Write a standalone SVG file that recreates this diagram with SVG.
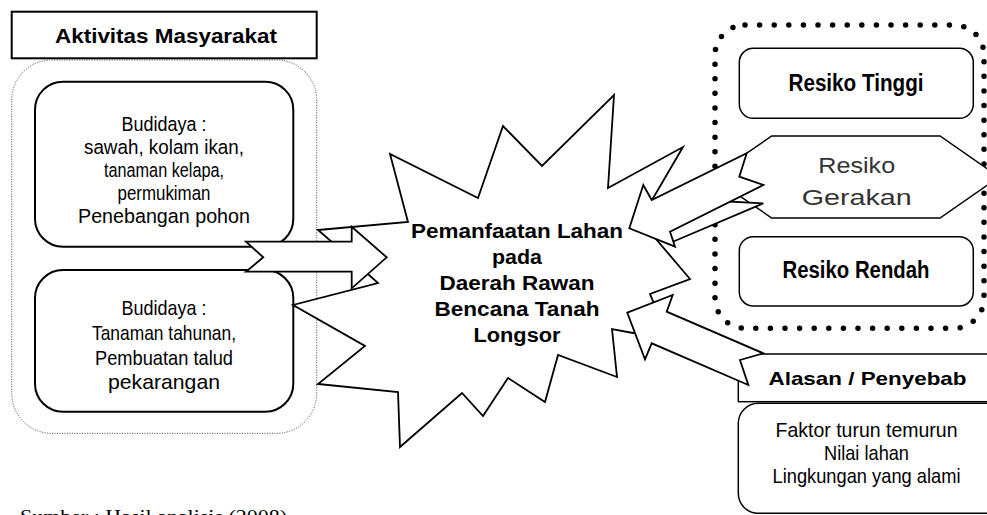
<svg xmlns="http://www.w3.org/2000/svg" width="987" height="515" viewBox="0 0 987 515">
<style>
text{font-family:"Liberation Sans",Arial,sans-serif;fill:#000;text-anchor:middle}
.b{font-weight:bold}
.n{font-size:20.5px}
.n2{font-size:21px}
.r{font-size:23px}
.m{font-size:21px}
.box{fill:#fff;stroke:#000;stroke-width:2}
.thin{fill:#fff;stroke:#000;stroke-width:1.5}
.shape{fill:#fff;stroke:#000;stroke-width:1.8;stroke-linejoin:miter}
.dotbig{fill:none;stroke:#000;stroke-width:5.5;stroke-linecap:round;stroke-dasharray:0 14.6}
.dotfine{fill:none;stroke:#444;stroke-width:1;stroke-dasharray:1 1.5}
</style>
<rect width="987" height="515" fill="#fff"/>

<g id="aktivitas">
<rect x="11.7" y="60" width="305" height="373.3" rx="40" class="dotfine"/>
<rect x="11.7" y="11.7" width="305" height="46.6" class="box"/>
<text x="166" y="43.3" class="b" font-size="21" textLength="222" lengthAdjust="spacingAndGlyphs">Aktivitas Masyarakat</text>
</g>

<g id="budidaya1">
<rect x="35" y="81.7" width="258.3" height="165" rx="28" class="box"/>
<text x="164" y="131" class="n" textLength="85" lengthAdjust="spacingAndGlyphs">Budidaya :</text>
<text x="164" y="154" class="n" textLength="160" lengthAdjust="spacingAndGlyphs">sawah, kolam ikan,</text>
<text x="164" y="177" class="n" textLength="120" lengthAdjust="spacingAndGlyphs">tanaman kelapa,</text>
<text x="164" y="200" class="n" textLength="93" lengthAdjust="spacingAndGlyphs">permukiman</text>
<text x="164" y="223" class="n" textLength="172" lengthAdjust="spacingAndGlyphs">Penebangan pohon</text>
</g>

<g id="budidaya2">
<rect x="35" y="270" width="258.3" height="141.7" rx="28" class="box"/>
<text x="164" y="315" class="n2" textLength="85" lengthAdjust="spacingAndGlyphs">Budidaya :</text>
<text x="164" y="340" class="n2" textLength="144" lengthAdjust="spacingAndGlyphs">Tanaman tahunan,</text>
<text x="164" y="364.5" class="n2" textLength="138" lengthAdjust="spacingAndGlyphs">Pembuatan talud</text>
<text x="164" y="389" class="n2" textLength="112" lengthAdjust="spacingAndGlyphs">pekarangan</text>
</g>

<g id="pemanfaatan">
<polygon class="shape" points="318,230 408,222 390,154 478,198 503,126 542,166 614,95 608,188 683,147 652,200 650,232 690,279 650,294 653,301 665,325 633,333 612,329 617,377 558,355 545,402 508,378 483,416 462,393 400,447 398,392 318,384 365,346 293,305 378,283 348,256"/>
<text x="517" y="238.3" class="b" font-size="20" textLength="212" lengthAdjust="spacingAndGlyphs">Pemanfaatan Lahan</text>
<text x="517" y="264" class="b" font-size="20" textLength="50" lengthAdjust="spacingAndGlyphs">pada</text>
<text x="517" y="290" class="b" font-size="20" textLength="155" lengthAdjust="spacingAndGlyphs">Daerah Rawan</text>
<text x="517" y="315.7" class="b" font-size="20" textLength="165" lengthAdjust="spacingAndGlyphs">Bencana Tanah</text>
<text x="517" y="341.5" class="b" font-size="20" textLength="87" lengthAdjust="spacingAndGlyphs">Longsor</text>
</g>

<g id="resiko">
<rect x="715" y="25" width="269" height="303.3" rx="30" class="dotbig"/>
</g>

<g id="resiko-tinggi">
<rect x="739.3" y="48.3" width="234" height="70" rx="14" class="thin"/>
<text x="856" y="90.7" class="b r" textLength="135" lengthAdjust="spacingAndGlyphs">Resiko Tinggi</text>
</g>

<g id="resiko-gerakan">
<polygon class="thin" points="771.7,136 940,136 999,177 940,218 771.7,218 712,177"/>
<text x="856.7" y="173.3" font-size="22" style="fill:#333" textLength="77" lengthAdjust="spacingAndGlyphs">Resiko</text>
<text x="856.7" y="205" font-size="22" style="fill:#333" textLength="110" lengthAdjust="spacingAndGlyphs">Gerakan</text>
</g>

<g id="resiko-rendah">
<rect x="739.3" y="236.7" width="234" height="69.3" rx="14" class="thin"/>
<text x="856" y="278.3" class="b r" textLength="147" lengthAdjust="spacingAndGlyphs">Resiko Rendah</text>
</g>

<g id="alasan">
<rect x="738.3" y="403.3" width="270" height="110" rx="20" class="thin"/>
<rect x="738.3" y="354" width="262" height="47.7" class="thin"/>
<text x="867.5" y="385" class="b" font-size="18.5" textLength="198" lengthAdjust="spacingAndGlyphs">Alasan / Penyebab</text>
<text x="866.5" y="436.7" class="m" textLength="182" lengthAdjust="spacingAndGlyphs">Faktor turun temurun</text>
<text x="866.5" y="460" class="m" textLength="85" lengthAdjust="spacingAndGlyphs">Nilai lahan</text>
<text x="866.5" y="483.3" class="m" textLength="188" lengthAdjust="spacingAndGlyphs">Lingkungan yang alami</text>
</g>

<g id="connectors">
<polygon class="shape" points="246,241.7 351.7,241.7 351.7,226.7 386.7,257.3 351.7,288.3 351.7,271.7 246,271.7 263.3,257.3"/>
<polygon class="shape" points="700,200 763.3,203.3 673.5,241.5 664,227"/>
<polygon class="shape" points="629.3,228.3 643.3,185 651.7,200 746.7,153.3 739.3,176.7 763.3,185 670,231.7 675,246.7"/>
<polygon class="shape" points="627.3,312.7 672.7,295 666.7,311.7 763.3,353.3 740,360 748.3,385 651.7,343.3 645,359.3"/>
</g>

<text x="20" y="523" style="font-family:'Liberation Serif','Times New Roman',serif;text-anchor:start" font-size="19" textLength="267" lengthAdjust="spacingAndGlyphs">Sumber : Hasil analisis (2008)</text>
</svg>
